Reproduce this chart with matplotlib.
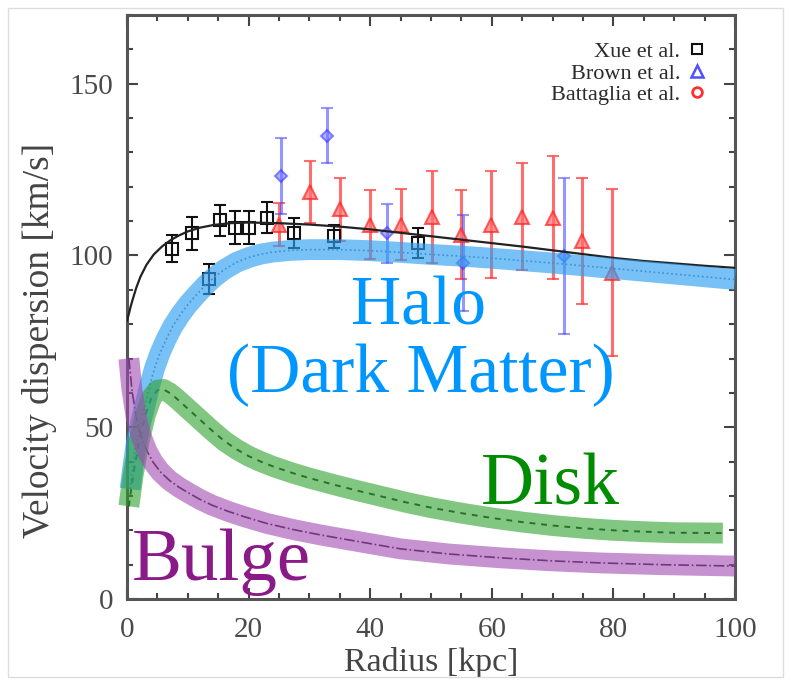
import numpy as np
import matplotlib.pyplot as plt
from matplotlib.lines import Line2D
from matplotlib.patches import Rectangle
from matplotlib.ticker import MultipleLocator

plt.rcParams['font.family'] = ['Liberation Serif', 'DejaVu Serif']

# ==== 1. data ====
# Xue et al. (black squares)
xue_r = [7.4, 10.7, 13.5, 15.3, 17.7, 20.0, 23.1, 27.4, 34.0, 47.8]
xue_v = [102.0, 106.4, 93.2, 110.2, 108.1, 108.1, 111.0, 106.6, 105.6, 103.7]
xue_err = [4.0, 4.7, 4.3, 4.6, 4.9, 4.9, 4.6, 4.4, 3.3, 4.4]

# Brown et al. (blue)
brown_r = [25.4, 32.9, 42.8, 55.3, 71.8]
brown_v = [123.1, 134.8, 106.4, 97.7, 99.8]
brown_err = [11.0, 8.0, 8.5, 14.0, 22.7]

# Battaglia et al. (red)
batt_r = [25.0, 30.1, 35.1, 39.9, 45.0, 50.1, 54.9, 59.9, 64.9, 70.0, 74.9, 79.8]
batt_v = [109.0, 118.5, 113.4, 109.0, 109.0, 111.3, 106.1, 109.0, 111.3, 111.0, 104.2, 95.0]
batt_err = [6.3, 9.0, 9.1, 10.0, 10.4, 13.4, 13.0, 15.5, 15.5, 17.9, 18.3, 24.4]

# total model (black solid)
total_r = [0, 0.3, 0.6, 1, 1.5, 2.2, 3.2, 4.4, 5.8, 7.2, 8.5, 10, 12, 14.3, 17, 20,
           25, 30, 35, 40, 45, 50, 55, 60, 65, 70, 75, 80, 85, 90, 95, 100]
total_v = [81, 83, 85.2, 87.6, 90.5, 93.8, 97.3, 100.3, 102.7, 104.5, 105.8, 107,
           108.1, 108.9, 109.4, 109.6, 109.4, 109, 108.4, 107.6, 106.6, 105.6, 104.6,
           103.6, 102.6, 101.5, 100.4, 99.3, 98.4, 97.7, 97, 96.4]

# halo component
halo_r = [0.5, 1, 1.5, 2.2, 2.9, 3.7, 4.5, 5.4, 6.4, 7.5, 8.7, 10, 11.5, 13, 14.5,
          16, 18, 20, 22, 24, 27, 30, 35, 40, 45, 50, 55, 60, 65, 70, 75, 80, 85,
          90, 95, 100]
halo_v = [32, 39, 45, 51, 56, 62, 67, 71.5, 75.5, 79.3, 82.6, 85.7, 88.7, 91.5,
          93.9, 95.9, 98, 99.4, 100.4, 101, 101.5, 101.7, 101.7, 101.4, 100.9, 100.3,
          99.8, 99.2, 98.5, 97.8, 97, 96.2, 95.4, 94.6, 93.8, 93]

# disk component
disk_r = [0.3, 1, 2, 3, 4, 5, 6, 7, 8, 9, 10, 12, 14, 16, 18, 20, 22, 24, 27, 30,
          34, 38, 42, 46, 50, 55, 60, 65, 70, 75, 80, 85, 90, 98]
disk_v = [27, 36, 46, 53.5, 58.5, 60.8, 61, 60, 58.6, 57, 55.4, 52.2, 49, 46, 43.6,
          41.6, 40, 38.6, 36.8, 35.2, 33.3, 31.5, 29.8, 28.1, 26.6, 25, 23.6, 22.4,
          21.4, 20.6, 20, 19.6, 19.3, 19.2]

# bulge component
bulge_r = [0.3, 0.8, 1.5, 2.3, 3.3, 4.3, 5.5, 7, 8.5, 10, 12, 14, 16.5, 19.2, 23,
           27.4, 32, 37.8, 45, 53, 61.4, 70, 78, 88, 100]
bulge_v = [70, 61, 53, 47.5, 43, 39.8, 37, 34.5, 32.6, 31, 29, 27.3, 25.6, 24,
           22, 20.2, 18.6, 16.8, 14.6, 13.1, 12, 11.1, 10.5, 10, 9.6]

# ==== 2. figure ====
fig = plt.figure(figsize=(7.91, 6.85), dpi=100)
fig.patches.append(Rectangle((0.010, 0.011), 0.980, 0.978, transform=fig.transFigure,
                             fill=False, edgecolor='#dddddd', linewidth=1))
ax = fig.add_axes([0.1606, 0.1255, 0.7686, 0.8526])

# data points
ax.errorbar(batt_r, batt_v, yerr=batt_err, fmt='^', color='#ff3030', mfc='#ff7070',
            mec='#ff2020', ms=10, mew=1.5, elinewidth=2.2, capsize=4, capthick=2,
            alpha=0.7, zorder=3)
ax.errorbar(brown_r, brown_v, yerr=brown_err, fmt='D', color='#4040ff', mfc='#7070ff',
            mec='#3030ff', ms=6, mew=1.5, elinewidth=2.2, capsize=4, capthick=2,
            alpha=0.55, zorder=3)
ax.errorbar(xue_r, xue_v, yerr=xue_err, fmt='s', color='#111111', mfc='none',
            mec='#111111', ms=8, mew=1.5, elinewidth=1.5, capsize=4, capthick=1.5,
            zorder=4)

# model lines
ax.plot(total_r, total_v, color='#222222', lw=1.6, zorder=5)
ax.plot(halo_r, halo_v, color='#557799', lw=1.2, ls=':', zorder=5)
ax.plot(disk_r, disk_v, color='#1a331a', lw=1.4, ls='--', dashes=(3, 3), zorder=5)
ax.plot(bulge_r, bulge_v, color='#331a33', lw=1.2, ls='-.', zorder=5)

# highlighter bands
ax.plot(halo_r, halo_v, color='#2ea0f2', lw=15, alpha=0.65, solid_capstyle='butt',
        solid_joinstyle='round', clip_on=False, zorder=6)
ax.plot(disk_r, disk_v, color='#2ea02e', lw=15, alpha=0.6, solid_capstyle='butt',
        solid_joinstyle='round', clip_on=False, zorder=6)
ax.plot(bulge_r, bulge_v, color='#a04ab0', lw=15, alpha=0.6, solid_capstyle='butt',
        solid_joinstyle='round', clip_on=False, zorder=6)

# component labels
ax.text(48.0, 79.9, 'Halo', color='#0096ff', fontsize=50, ha='center', va='baseline', zorder=7)
ax.text(48.3, 60.1, '(Dark Matter)', color='#0096ff', fontsize=50, ha='center',
        va='baseline', zorder=7)
ax.text(58.2, 27.4, 'Disk', color='#008c00', fontsize=53, ha='left', va='baseline', zorder=7)
ax.text(0.8, 5.5, 'Bulge', color='#8b1a89', fontsize=54, ha='left', va='baseline',
        zorder=7, clip_on=False)

# legend
handles = [
    Line2D([], [], ls='none', marker='s', mfc='none', mec='#111111', ms=7, mew=1.5),
    Line2D([], [], ls='none', marker='^', mfc='none', mec='#5050ff', ms=8, mew=1.8),
    Line2D([], [], ls='none', marker='o', mfc='none', mec='#ff3030', ms=7, mew=2),
]
leg = ax.legend(handles, ['Xue et al.', 'Brown et al.', 'Battaglia et al.'],
                loc='upper right', bbox_to_anchor=(0.950, 0.955), frameon=False,
                markerfirst=False, fontsize=16, handlelength=0.7, handletextpad=0.4,
                labelspacing=0.05, borderpad=0, borderaxespad=0)
for t in leg.get_texts():
    t.set_color('#2a2a2a')

# axes
ax.set_xlim(0, 100)
ax.set_ylim(0, 170)
ax.xaxis.set_major_locator(MultipleLocator(20))
ax.xaxis.set_minor_locator(MultipleLocator(5))
ax.yaxis.set_major_locator(MultipleLocator(50))
ax.yaxis.set_minor_locator(MultipleLocator(10))
ax.tick_params(which='both', direction='in', top=True, right=True, color='#444444',
               width=1.5, labelsize=21, labelcolor='#4a4a4a')
ax.tick_params(which='major', length=8)
ax.tick_params(which='minor', length=4)
ax.tick_params(axis='x', pad=13)
ax.tick_params(axis='y', pad=10)
for s in ax.spines.values():
    s.set_linewidth(2.2)
    s.set_color('#555555')
ax.set_xlabel('Radius [kpc]', fontsize=24.5, color='#444444', labelpad=3)
ax.set_ylabel('Velocity dispersion [km/s]', fontsize=27, color='#444444')
ax.yaxis.set_label_coords(-0.115, 0.4435)

fig.savefig('out.png', dpi=100)
